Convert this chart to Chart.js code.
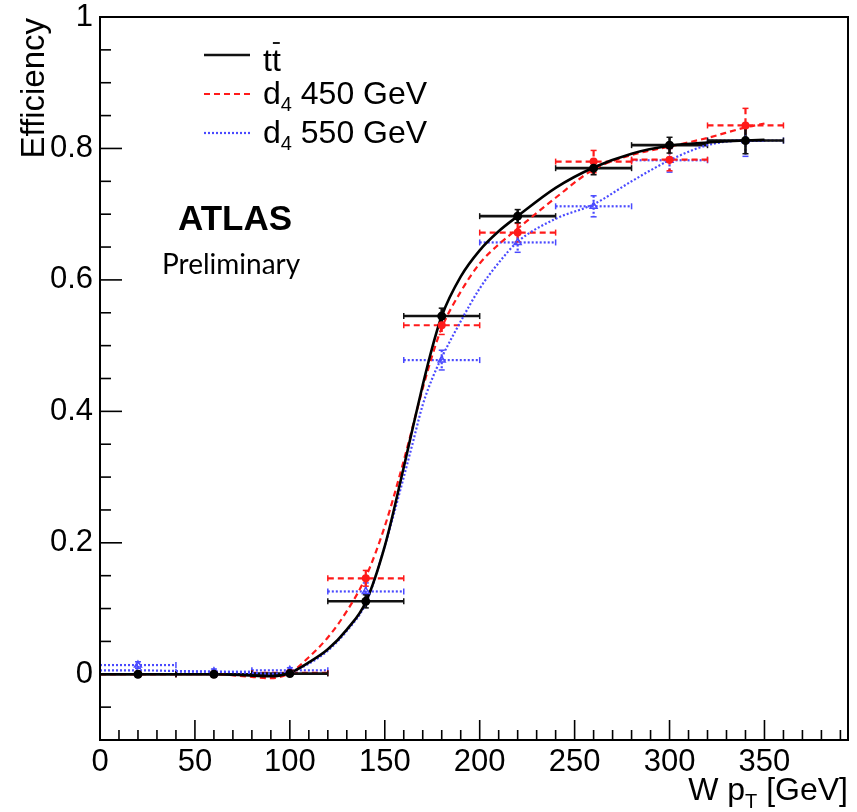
<!DOCTYPE html>
<html><head><meta charset="utf-8">
<script src="https://cdn.jsdelivr.net/npm/chart.js@4"></script>
<style>html,body{margin:0;padding:0;background:#fff;}#wrap{width:857px;height:812px;}</style>
</head><body><div id="wrap"><canvas id="c" width="857" height="812"></canvas></div>
<script>
// ---- data ----
const xTicks = [0, 50, 100, 150, 200, 250, 300, 350];
const yTicks = [0, 0.2, 0.4, 0.6, 0.8, 1];
const binCenters = [20, 60, 100, 140, 180, 220, 260, 300, 340];
const binHalfWidth = 20;
const ttEff   = [0.000, 0.000, 0.001, 0.111, 0.545, 0.697, 0.770, 0.805, 0.812];
const ttErr   = [0.002, 0.002, 0.002, 0.010, 0.012, 0.010, 0.010, 0.012, 0.020];
const d450Eff = [0.000, 0.000, 0.002, 0.146, 0.531, 0.672, 0.780, 0.783, 0.835];
const d450Err = [0.003, 0.003, 0.004, 0.012, 0.014, 0.014, 0.017, 0.017, 0.026];
const d550Eff = [0.014, 0.004, 0.006, 0.126, 0.478, 0.657, 0.712, 0.782, 0.812];
const d550Err = [0.005, 0.004, 0.004, 0.013, 0.015, 0.015, 0.016, 0.018, 0.024];
const fitX    = [0, 20, 40, 60, 80, 90, 100, 110, 120, 130, 140, 150, 160, 165, 170, 175, 180, 190, 200, 210, 220, 240, 260, 280, 300, 320, 340, 350];
const ttFit   = [0, 0, 0, 0, -0.002, -0.003, 0.002, 0.018, 0.038, 0.068, 0.110, 0.195, 0.315, 0.378, 0.440, 0.497, 0.545, 0.605, 0.645, 0.674, 0.697, 0.740, 0.771, 0.792, 0.804, 0.809, 0.812, 0.813];
const d450Fit = [0, 0, 0, 0, -0.004, -0.006, 0.002, 0.026, 0.056, 0.096, 0.148, 0.225, 0.325, 0.380, 0.435, 0.485, 0.527, 0.582, 0.625, 0.654, 0.678, 0.725, 0.768, 0.790, 0.803, 0.816, 0.832, 0.838];
const d550Fit = [0.006, 0.006, 0.005, 0.004, 0.002, 0.001, 0.004, 0.016, 0.036, 0.066, 0.108, 0.195, 0.300, 0.355, 0.410, 0.450, 0.482, 0.537, 0.587, 0.626, 0.658, 0.693, 0.715, 0.750, 0.782, 0.805, 0.812, 0.812];

const BLACK = '#000000', RED = '#ff1a1a', BLUE = '#4a4aff';
const FONT = "'Liberation Sans', Arial, Helvetica, sans-serif";

const series = [
  {eff: ttEff, err: ttErr, color: '#111', width: 2.6, dash: []},
  {eff: d450Eff, err: d450Err, color: RED, width: 2.2, dash: [6, 4]},
  {eff: d550Eff, err: d550Err, color: BLUE, width: 2.2, dash: [2, 2]}
];

const pts = arr => binCenters.map((x, i) => ({x, y: arr[i]}));
const curve = arr => fitX.map((x, i) => ({x, y: arr[i]}));

const errPlugin = {
  id: 'errbars',
  beforeDatasetsDraw(chart) {
    const {ctx, chartArea: a, scales: {x, y}} = chart;
    ctx.save();
    ctx.beginPath(); ctx.rect(a.left, a.top, a.right - a.left, a.bottom - a.top); ctx.clip();
    const seg = (x1, y1, x2, y2) => { ctx.beginPath(); ctx.moveTo(x1, y1); ctx.lineTo(x2, y2); ctx.stroke(); };
    series.slice().reverse().forEach(s => {
      ctx.strokeStyle = s.color; ctx.lineWidth = s.width;
      binCenters.forEach((c, i) => {
        const px = x.getPixelForValue(c), py = y.getPixelForValue(s.eff[i]);
        const xl = x.getPixelForValue(c - binHalfWidth), xr = x.getPixelForValue(c + binHalfWidth);
        const yt = y.getPixelForValue(s.eff[i] + s.err[i]), yb = y.getPixelForValue(s.eff[i] - s.err[i]);
        ctx.setLineDash(s.dash);
        seg(xl, py, xr, py);
        seg(px, yt, px, yb);
        ctx.setLineDash([]);
        ctx.lineWidth = 1.5;
        seg(xl, py - 3, xl, py + 3); seg(xr, py - 3, xr, py + 3);
        seg(px - 3, yt, px + 3, yt); seg(px - 3, yb, px + 3, yb);
        ctx.lineWidth = s.width;
      });
    });
    ctx.restore();
  }
};

const framePlugin = {
  id: 'frame',
  afterDraw(chart) {
    const {ctx, chartArea: a, scales: {x, y}} = chart;
    ctx.save();
    ctx.strokeStyle = '#000'; ctx.lineWidth = 2; ctx.setLineDash([]);
    ctx.strokeRect(a.left, a.top, a.right - a.left, a.bottom - a.top);
    ctx.lineWidth = 1.6;
    const seg = (x1, y1, x2, y2) => { ctx.beginPath(); ctx.moveTo(x1, y1); ctx.lineTo(x2, y2); ctx.stroke(); };
    for (let k = 0; k * 10 <= x.max + 1e-9; k++) {
      const px = x.getPixelForValue(k * 10);
      seg(px, a.bottom, px, a.bottom - (k % 5 === 0 ? 20 : 10));
    }
    for (let k = -2; k * 0.05 <= y.max + 1e-9; k++) {
      const py = y.getPixelForValue(k * 0.05);
      seg(a.left, py, a.left + (k % 4 === 0 ? 22 : 11), py);
    }
    // axis titles
    ctx.fillStyle = '#000';
    ctx.font = `33px ${FONT}`;
    ctx.save();
    ctx.translate(44, a.top + 1); ctx.rotate(-Math.PI / 2);
    ctx.textAlign = 'right'; ctx.textBaseline = 'alphabetic';
    ctx.fillText('Efficiency', 0, 0);
    ctx.restore();
    // x title: W p_T [GeV]
    const big = `32px ${FONT}`, sub = `20px ${FONT}`;
    ctx.textAlign = 'left'; ctx.textBaseline = 'alphabetic';
    ctx.font = big; const w1 = ctx.measureText('W p').width;
    ctx.font = sub; const w2 = ctx.measureText('T').width;
    ctx.font = big; const w3 = ctx.measureText(' [GeV]').width;
    let sx = a.right - (w1 + w2 + w3), by = 800;
    ctx.font = big; ctx.fillText('W p', sx, by);
    ctx.font = sub; ctx.fillText('T', sx + w1, by + 8);
    ctx.font = big; ctx.fillText(' [GeV]', sx + w1 + w2, by);
    // legend
    const legY = [55, 94, 133];
    const lx1 = 204, lx2 = 250, tx = 263;
    series.forEach((s, i) => {
      ctx.strokeStyle = s.color; ctx.lineWidth = s.width; ctx.setLineDash(s.dash);
      seg(lx1, legY[i], lx2, legY[i]);
    });
    ctx.setLineDash([]);
    ctx.fillStyle = '#000';
    ctx.font = big;
    ctx.fillText('tt', tx, legY[0] + 16);
    const tw = ctx.measureText('t').width;
    ctx.strokeStyle = '#000'; ctx.lineWidth = 1.8;
    seg(tx + tw + 1, legY[0] - 12, tx + 2 * tw - 1, legY[0] - 12);
    ['450 GeV', '550 GeV'].forEach((lab, j) => {
      const bl = legY[j + 1] + 10;
      ctx.font = big; ctx.fillText('d', tx, bl);
      const dw = ctx.measureText('d').width;
      ctx.font = sub; ctx.fillText('4', tx + dw, bl + 7);
      const fw = ctx.measureText('4').width;
      ctx.font = big; ctx.fillText(' ' + lab, tx + dw + fw, bl);
    });
    // ATLAS / Preliminary
    ctx.font = `bold 35px ${FONT}`;
    ctx.fillText('ATLAS', 178, 230);
    ctx.font = `28px Lato, 'Noto Sans', sans-serif`;
    ctx.fillText('Preliminary', 162, 274);
    ctx.restore();
  }
};

new Chart(document.getElementById('c'), {
  type: 'scatter',
  data: {
    datasets: [
      {label: 'tt', data: pts(ttEff), showLine: false, pointStyle: 'circle', pointRadius: 4.5, backgroundColor: BLACK, borderColor: BLACK, borderWidth: 0},
      {label: 'd4 450', data: pts(d450Eff), showLine: false, pointStyle: 'circle', pointRadius: 4, backgroundColor: RED, borderColor: RED, borderWidth: 0},
      {label: 'd4 550', data: pts(d550Eff), showLine: false, pointStyle: 'triangle', pointRadius: 4, backgroundColor: 'rgba(0,0,0,0)', borderColor: BLUE, borderWidth: 1.5},
      {label: 'tt fit', data: curve(ttFit), showLine: true, pointRadius: 0, borderColor: BLACK, borderWidth: 2.6, cubicInterpolationMode: 'monotone', fill: false},
      {label: 'd4 450 fit', data: curve(d450Fit), showLine: true, pointRadius: 0, borderColor: RED, borderWidth: 2.2, borderDash: [6, 4], cubicInterpolationMode: 'monotone', fill: false},
      {label: 'd4 550 fit', data: curve(d550Fit), showLine: true, pointRadius: 0, borderColor: BLUE, borderWidth: 2.2, borderDash: [2, 2], cubicInterpolationMode: 'monotone', fill: false}
    ]
  },
  options: {
    responsive: false, animation: false, devicePixelRatio: 1,
    layout: {padding: {top: 17, right: 9, left: 0, bottom: 0}},
    plugins: {legend: {display: false}, tooltip: {enabled: false}},
    scales: {
      x: {
        type: 'linear', min: 0, max: 394,
        afterBuildTicks: s => { s.ticks = xTicks.map(v => ({value: v})); },
        afterFit: s => { s.height = 72; s.paddingLeft = 0; s.paddingRight = 0; },
        grid: {display: false, drawTicks: false}, border: {display: false},
        ticks: {font: {family: FONT, size: 31}, color: '#000', padding: 4, maxRotation: 0, autoSkip: false,
                callback: v => String(v)}
      },
      y: {
        type: 'linear', min: -0.1, max: 1,
        afterBuildTicks: s => { s.ticks = yTicks.map(v => ({value: v})); },
        afterFit: s => { s.width = 100; s.paddingTop = 0; s.paddingBottom = 0; },
        grid: {display: false, drawTicks: false}, border: {display: false},
        ticks: {font: {family: FONT, size: 31}, color: '#000', padding: 7, autoSkip: false,
                callback: v => String(Math.round(v * 10) / 10)}
      }
    }
  },
  plugins: [errPlugin, framePlugin]
});
</script>
</body></html>
